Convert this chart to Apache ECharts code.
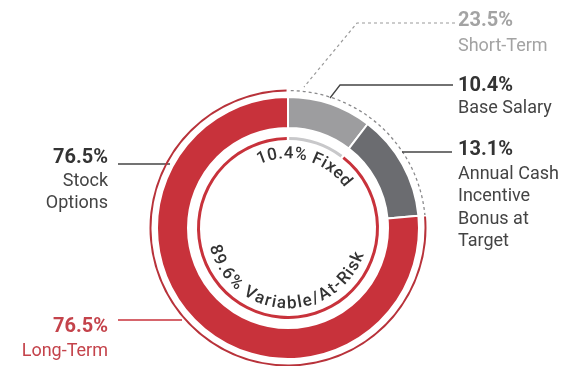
<!DOCTYPE html>
<html>
<head>
<meta charset="utf-8">
<script src="https://cdn.jsdelivr.net/npm/echarts@6/dist/echarts.min.js"></script>
<style>
  html, body { margin: 0; padding: 0; background: #fff; }
  #chart { width: 573px; height: 366px; }
</style>
</head>
<body>
<div id="chart"></div>
<script>
// pay mix data
var mixNames = ['Base Salary', 'Annual Cash Incentive Bonus at Target', 'Stock Options'];
var mixValues = [10.4, 13.1, 76.5];
var fixedNames = ['Fixed', 'Variable/At-Risk'];
var fixedValues = [10.4, 89.6];
var termNames = ['Short-Term', 'Long-Term'];
var termValues = [23.5, 76.5];

var RED = '#c8323b';
var cx = 288, cy = 228;

var chart = echarts.init(document.getElementById('chart'));

// text along a circle, one char per element
var measure = document.createElement('canvas').getContext('2d');
function arcText(str, thetaC, r, dir, font, color, ls) {
  measure.font = font;
  var chars = str.split('');
  var widths = chars.map(function (c) { return measure.measureText(c).width; });
  var total = widths.reduce(function (a, b) { return a + b; }, 0) + ls * (chars.length - 1);
  var acc = -total / 2;
  var out = [];
  chars.forEach(function (ch, i) {
    var mid = acc + widths[i] / 2;
    var th = (thetaC * Math.PI / 180) + dir * mid / r;
    out.push({
      type: 'text',
      x: cx + r * Math.sin(th),
      y: cy - r * Math.cos(th),
      rotation: dir > 0 ? -th : Math.PI - th,
      style: { text: ch, font: font, fill: color, align: 'center', verticalAlign: 'middle' }
    });
    acc += widths[i] + ls;
  });
  return out;
}

var shortEnd = termValues[0] / 100 * Math.PI * 2;
var pctFont = 'bold 20px Roboto';
var txtFont = '18px Roboto';

var graphics = [
  // dashed short-term arc
  {
    type: 'arc',
    shape: { cx: cx, cy: cy, r: 137.5, startAngle: -Math.PI / 2 + 0.02, endAngle: -Math.PI / 2 + shortEnd, clockwise: true },
    style: { stroke: '#8a8a8c', lineWidth: 1.3, lineDash: [3, 3], fill: null }
  },
  // leader lines
  { type: 'polyline', shape: { points: [[455, 23], [357, 23], [304, 87]] },
    style: { stroke: '#9a9a9a', lineWidth: 1.2, lineDash: [3, 3], fill: null } },
  { type: 'polyline', shape: { points: [[453, 85], [340, 85], [330, 98]] },
    style: { stroke: '#444', lineWidth: 1.3, fill: null } },
  { type: 'polyline', shape: { points: [[452, 152], [402, 152]] },
    style: { stroke: '#444', lineWidth: 1.3, fill: null } },
  { type: 'polyline', shape: { points: [[118, 164], [170, 164]] },
    style: { stroke: '#444', lineWidth: 1.3, fill: null } },
  { type: 'polyline', shape: { points: [[118, 320], [182, 320]] },
    style: { stroke: RED, lineWidth: 1.3, fill: null } },

  // right labels
  { type: 'text', x: 458, y: 21, style: { text: termValues[0] + '%', font: pctFont, fill: '#a3a3a3', align: 'left', verticalAlign: 'middle' } },
  { type: 'text', x: 458, y: 46, style: { text: termNames[0], font: txtFont, fill: '#a3a3a3', align: 'left', verticalAlign: 'middle' } },
  { type: 'text', x: 458, y: 86, style: { text: mixValues[0] + '%', font: pctFont, fill: '#333', align: 'left', verticalAlign: 'middle' } },
  { type: 'text', x: 458, y: 108, style: { text: mixNames[0], font: txtFont, fill: '#444', align: 'left', verticalAlign: 'middle' } },
  { type: 'text', x: 458, y: 150, style: { text: mixValues[1] + '%', font: pctFont, fill: '#333', align: 'left', verticalAlign: 'middle' } },
  { type: 'text', x: 458, y: 163, style: { text: 'Annual Cash\nIncentive\nBonus at\nTarget', font: txtFont, lineHeight: 22.5, fill: '#444', align: 'left', verticalAlign: 'top' } },

  // left labels
  { type: 'text', x: 108, y: 158, style: { text: mixValues[2] + '%', font: pctFont, fill: '#333', align: 'right', verticalAlign: 'middle' } },
  { type: 'text', x: 108, y: 170, style: { text: 'Stock\nOptions', font: txtFont, lineHeight: 22, fill: '#444', align: 'right', verticalAlign: 'top' } },
  { type: 'text', x: 108, y: 327, style: { text: termValues[1] + '%', font: pctFont, fill: '#c4434b', align: 'right', verticalAlign: 'middle' } },
  { type: 'text', x: 108, y: 351, style: { text: termNames[1], font: txtFont, fill: '#c4434b', align: 'right', verticalAlign: 'middle' } }
];

var curvedFont = '500 17px Roboto';
graphics = graphics
  .concat(arcText(fixedValues[0] + '% ' + fixedNames[0], 15, 74, 1, curvedFont, '#333', 1))
  .concat(arcText(fixedValues[1] + '% ' + fixedNames[1], 183, 76, -1, curvedFont, '#333', 1));

chart.setOption({
  animation: false,
  series: [
    {
      type: 'pie',
      center: [cx, cy],
      radius: [100, 131],
      startAngle: 90,
      silent: true,
      label: { show: false },
      itemStyle: { borderColor: '#fff', borderWidth: 2 },
      color: ['#9d9d9f', '#6b6c70', RED],
      data: mixNames.map(function (n, i) { return { name: n, value: mixValues[i] }; })
    },
    {
      type: 'pie',
      center: [cx, cy],
      radius: [88, 91],
      startAngle: 90,
      padAngle: 1.5,
      silent: true,
      label: { show: false },
      color: ['#c8c8ca', RED],
      data: fixedNames.map(function (n, i) { return { name: n, value: fixedValues[i] }; })
    },
    {
      type: 'pie',
      center: [cx, cy],
      radius: [136.5, 138.5],
      startAngle: 90,
      padAngle: 1.2,
      silent: true,
      label: { show: false },
      color: ['rgba(0,0,0,0)', '#b8323a'],
      data: termNames.map(function (n, i) { return { name: n, value: termValues[i] }; })
    }
  ],
  graphic: graphics
});
</script>
</body>
</html>
